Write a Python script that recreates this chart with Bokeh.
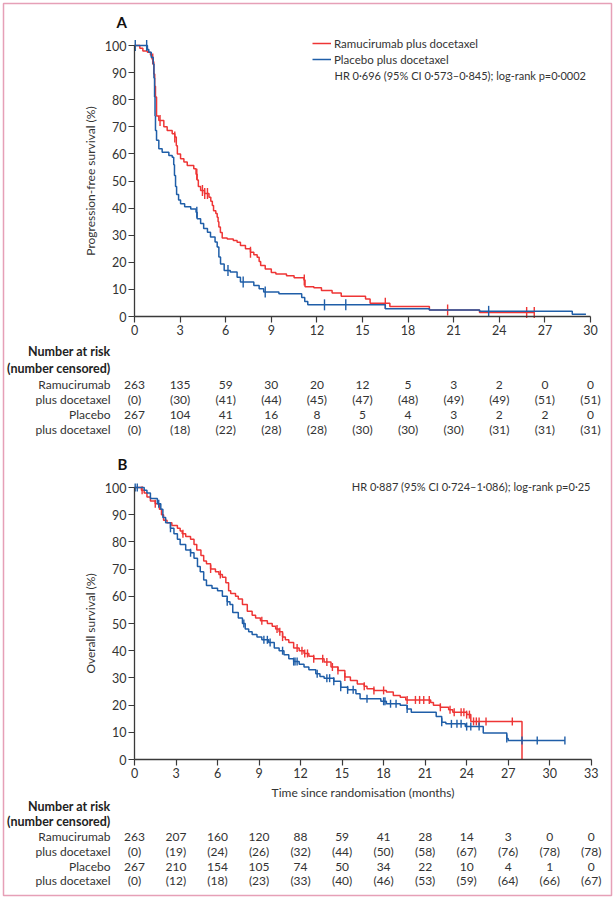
import numpy as np
from bokeh.plotting import figure
from bokeh.models import Range1d, LinearAxis, FixedTicker, Legend, LegendItem, Label
from bokeh.core.properties import value
from bokeh.embed import file_html
from bokeh.resources import INLINE

# ---------------- data ----------------
# Panel A: progression-free survival (time in months, survival %)
pfs_ram_t = [0, 0.35, 0.55, 0.85, 1.05, 1.15, 1.22, 1.27, 1.33, 1.38, 1.45, 1.6, 1.93, 2.15, 2.48,
             2.65, 2.75, 2.82, 3.03, 3.25, 3.47, 3.9, 4.05, 4.12, 4.2, 4.35, 4.6, 4.9, 5.02, 5.12,
             5.2, 5.35, 5.44, 5.5, 5.55, 5.65, 5.77, 6.1, 6.5, 6.75, 6.97, 7.3, 7.63, 7.85, 8.07,
             8.2, 8.3, 8.6, 9.0, 9.3, 10.0, 10.5, 11.15, 11.22, 11.8, 12.3, 13.0, 13.6, 15.2, 15.5,
             16.8, 19.4, 22.7, 26.3]
pfs_ram_s = [100, 99, 98, 97.5, 96.5, 95, 94, 89.5, 85, 81, 74, 72.3, 70, 68.6, 67.4,
             66.2, 63, 60, 58.2, 57, 55.7, 54.5, 52.5, 50.4, 48, 46.5, 45.4, 44, 42.5, 41,
             39, 38, 36.6, 35, 33, 31, 29, 28.6, 28, 27.4, 26.2, 25, 23.7, 22.8, 21.9,
             20.3, 18.8, 17.5, 16.2, 15.7, 15.0, 14.3, 13.5, 11, 10.6, 9.6, 8.7, 7.5, 6.5, 4.9,
             3.7, 2.4, 1.5, 1.5]
pfs_ram_cens = [1.2, 1.68, 2.65, 4.1, 4.47, 4.62, 4.8, 7.63, 11.17, 16.5, 20.6, 25.8, 26.3]

pfs_pla_t = [0, 0.85, 0.94, 1.1, 1.23, 1.28, 1.32, 1.35, 1.38, 1.45, 1.6, 1.82, 2.26, 2.48, 2.58,
             2.63, 2.7, 2.77, 2.9, 3.03, 3.3, 3.7, 4.05, 4.12, 4.35, 4.55, 4.8, 5.0, 5.3, 5.44,
             5.55, 5.66, 5.9, 6.3, 6.75, 6.97, 7.85, 8.2, 8.5, 9.5, 11.0, 11.2, 11.4, 16.5, 19.4,
             22.7, 28.8, 29.7]
pfs_pla_s = [100, 98.5, 97.5, 95.7, 93.2, 88, 81, 74, 68.6, 65, 61.9, 60.6, 59.4, 58.8, 56,
             52, 48, 45, 43, 41.6, 40.5, 39.7, 38.5, 36.1, 34.3, 32.5, 31.1, 29.3, 27.5, 25.6,
             22, 19.4, 17, 16.4, 14.5, 12.7, 11.4, 10.2, 9.0, 8.4, 7, 5.5, 4.3, 2.9, 2.4,
             1.9, 0.8, 0.8]
pfs_pla_cens = [0.05, 0.8, 4.1, 6.15, 7.15, 8.6, 12.5, 13.9, 23.3]

# Panel B: overall survival
os_ram_t = [0, 0.5, 0.7, 0.9, 1.15, 1.5, 1.8, 1.95, 2.1, 2.35, 2.7, 3.1, 3.3, 3.45, 3.7, 4.05,
            4.3, 4.5, 4.8, 5.0, 5.2, 5.5, 5.85, 6.1, 6.35, 6.6, 6.8, 6.95, 7.3, 7.5, 7.8, 8.15,
            8.5, 8.75, 9.1, 9.6, 9.95, 10.2, 10.45, 10.7, 10.9, 11.15, 11.5, 11.9, 12.25, 12.6,
            12.95, 13.7, 14.2, 14.7, 15.2, 15.6, 16.1, 16.6, 16.8, 17.3, 18.2, 18.7, 19.2, 19.6,
            21.4, 21.6, 22.1, 22.7, 23.0, 24.0, 24.3, 28.0]
os_ram_s = [100, 99, 98, 96.5, 95, 94, 92, 90, 88, 87, 86, 85, 84, 83, 82, 81,
            79, 77, 75, 73, 72, 70, 69, 68, 67, 65, 62, 61, 60, 59, 57, 54.5,
            53, 52, 51, 50, 49, 48, 47, 45, 44, 43, 41, 40, 39, 38,
            37, 35.8, 34, 32.7, 30.3, 29, 27.8, 26.9, 26, 25.4, 24.8, 23.5, 22.9, 21.9,
            21, 19.9, 19.2, 18.3, 17.4, 16.5, 14, 0]
os_ram_cens = [0.55, 1.5, 3.5, 5.5, 6.2, 9.2, 10.3, 10.5, 10.7, 11.75, 12.1, 12.3, 12.5, 12.95,
               13.6, 13.9, 14.3, 14.7, 15.2, 16.6, 17.3, 18.0, 19.7, 20.3, 20.6, 20.9, 21.3,
               22.1, 22.8, 23.1, 23.6, 23.8, 24.0, 24.2, 24.5, 24.7, 24.9, 25.4, 27.3]

os_pla_t = [0, 0.7, 0.9, 1.15, 1.65, 1.9, 2.05, 2.25, 2.6, 2.85, 3.1, 3.3, 3.7, 4.05, 4.3, 4.55,
            4.75, 5.0, 5.2, 5.6, 6.0, 6.35, 6.7, 6.9, 7.1, 7.5, 7.8, 8.0, 8.25, 8.5, 8.85, 9.2,
            9.7, 10.1, 10.45, 10.8, 11.15, 11.5, 11.9, 12.25, 12.6, 13.1, 13.4, 13.7, 14.4, 14.9,
            15.4, 16.0, 16.3, 17.8, 18.2, 19.2, 19.7, 20.0, 21.8, 22.2, 22.5, 23.9, 25.2, 26.9,
            27.0, 31.1]
os_pla_s = [100, 99, 98, 96, 94, 92, 89, 87, 85, 83, 81, 79, 77, 76, 74, 71,
            69, 66, 64, 63, 62, 60, 58, 57, 54, 52, 50, 48, 47, 46, 45, 44,
            43, 41, 40, 38.5, 37, 36, 35, 34, 33, 31.5, 30.5, 29.9, 28.8, 26.6,
            25.6, 24.2, 22.3, 21.4, 20.5, 19.9, 18.6, 17.4, 15.8, 13.7, 13.1, 12.1, 9.7, 7.7,
            7.0, 7.0]
os_pla_cens = [0.05, 0.2, 1.75, 2.6, 4.05, 6.7, 7.9, 9.35, 9.6, 9.8, 10.7, 11.5, 11.6, 11.75,
               13.2, 13.9, 14.1, 14.4, 14.9, 15.4, 15.8, 16.8, 18.0, 18.1, 18.5, 18.9, 19.7,
               22.2, 22.9, 23.3, 23.6, 24.0, 24.3, 24.9, 26.9, 28.0, 29.1, 31.1]

# Number at risk tables
pfs_months = [0, 3, 6, 9, 12, 15, 18, 21, 24, 27, 30]
pfs_ram_risk = [263, 135, 59, 30, 20, 12, 5, 3, 2, 0, 0]
pfs_ram_censored = [0, 30, 41, 44, 45, 47, 48, 49, 49, 51, 51]
pfs_pla_risk = [267, 104, 41, 16, 8, 5, 4, 3, 2, 2, 0]
pfs_pla_censored = [0, 18, 22, 28, 28, 30, 30, 30, 31, 31, 31]

os_months = [0, 3, 6, 9, 12, 15, 18, 21, 24, 27, 30, 33]
os_ram_risk = [263, 207, 160, 120, 88, 59, 41, 28, 14, 3, 0, 0]
os_ram_censored = [0, 19, 24, 26, 32, 44, 50, 58, 67, 76, 78, 78]
os_pla_risk = [267, 210, 154, 105, 74, 50, 34, 22, 10, 4, 1, 0]
os_pla_censored = [0, 12, 18, 23, 33, 40, 46, 53, 59, 64, 66, 67]

y_ticks = list(range(0, 101, 10))
row_labels = ["Number at risk", "(number censored)", "Ramucirumab", "plus docetaxel",
              "Placebo", "plus docetaxel"]

# ---------------- layout / style ----------------
W, H = 615, 900
FL, FR, FT, FB = 3, 611, 3, 895      # frame (= pink border) edges in page pixels
RED = "#EE3535"
BLUE = "#1F5EA8"
TXT = "#333333"
AXC = "#3a3a3a"
FONT = "Lato"


def x_range(x0_page, x1_page, vmax):
    s = (x1_page - x0_page) / vmax
    return Range1d(-(x0_page - FL) / s, vmax + (FR - x1_page) / s), s


def y_range(y0_page, y100_page):
    s = (y0_page - y100_page) / 100.0
    return Range1d(-(FB - y0_page) / s, 100 + (y100_page - FT) / s), s


xA, sxA = x_range(134, 590, 30)
yA, syA = y_range(316, 45)
xB, sxB = x_range(134, 590.7, 33)
yB, syB = y_range(759, 487)

p = figure(width=W, height=H, x_range=xA, y_range=yA,
           min_border_left=FL, min_border_right=W - FR,
           min_border_top=FT, min_border_bottom=H - FB,
           toolbar_location=None, output_backend="svg",
           x_axis_type=None, y_axis_type=None)
p.extra_x_ranges = {"xb": xB}
p.extra_y_ranges = {"yb": yB}
p.outline_line_color = "#E6A0B7"
p.outline_line_width = 1.5
p.background_fill_color = "white"
p.border_fill_color = "white"


def style_axis(ax):
    ax.axis_line_color = AXC
    ax.axis_line_width = 1.3
    ax.major_tick_line_color = AXC
    ax.major_tick_line_width = 1.2
    ax.major_tick_out = 6
    ax.major_tick_in = 0
    ax.minor_tick_line_color = None
    ax.major_label_text_font = FONT
    ax.major_label_text_font_size = "12.5px"
    ax.major_label_text_color = TXT
    ax.axis_label_text_font = FONT
    ax.axis_label_text_font_size = "12px"
    ax.axis_label_text_font_style = "normal"
    ax.axis_label_text_color = TXT


def add_axes(xr, yr, xmax, xticks, ylabel, xlabel=None):
    xa = LinearAxis(x_range_name=xr, y_range_name=yr, fixed_location=0, bounds=(0, xmax),
                    ticker=FixedTicker(ticks=xticks))
    style_axis(xa)
    xa.major_label_standoff = 2
    if xlabel:
        xa.axis_label = xlabel
        xa.axis_label_standoff = 4
    p.add_layout(xa, "below")
    ya = LinearAxis(x_range_name=xr, y_range_name=yr, fixed_location=0, bounds=(0, 100),
                    ticker=FixedTicker(ticks=y_ticks), axis_label=ylabel)
    style_axis(ya)
    ya.major_label_standoff = 2
    ya.axis_label_standoff = 4
    p.add_layout(ya, "left")


def surv_at(times, surv, t):
    idx = np.searchsorted(np.asarray(times), t, side="right") - 1
    return surv[max(idx, 0)]


def km(times, surv, cens, color, xr, yr, tick):
    r = p.step(times, surv, mode="after", line_color=color, line_width=1.5,
               x_range_name=xr, y_range_name=yr)
    cy = [surv_at(times, surv, t) for t in cens]
    p.scatter(cens, cy, marker="dash", angle=np.pi / 2, size=tick, line_color=color,
              line_width=1.4, x_range_name=xr, y_range_name=yr)
    return r


def risk_table(months, ram_r, ram_c, pla_r, pla_c, xr, yr, y0_page, sy, sx, rows_page):
    ys = [(y0_page - yy) / sy for yy in rows_page]
    label_x = (110 - 134) / sx
    p.text(x=[label_x] * 2, y=ys[:2], text=row_labels[:2], text_align="right",
           text_baseline="middle", text_font=value(FONT), text_font_size="12.5px",
           text_font_style="bold", text_color="#222222", x_range_name=xr, y_range_name=yr)
    p.text(x=[label_x] * 4, y=ys[2:], text=row_labels[2:], text_align="right",
           text_baseline="middle", text_font=value(FONT), text_font_size="12px",
           text_color=TXT, x_range_name=xr, y_range_name=yr)
    rows = [[str(v) for v in ram_r], ["(%d)" % v for v in ram_c],
            [str(v) for v in pla_r], ["(%d)" % v for v in pla_c]]
    for k, txt in enumerate(rows):
        p.text(x=months, y=[ys[2 + k]] * len(months), text=txt, text_align="center",
               text_baseline="middle", text_font=value(FONT), text_font_size="12px",
               text_color=TXT, x_range_name=xr, y_range_name=yr)


# ---------------- Panel A ----------------
add_axes("default", "default", 30, pfs_months, "Progression-free survival (%)")
rA1 = km(pfs_ram_t, pfs_ram_s, pfs_ram_cens, RED, "default", "default", 11)
rA2 = km(pfs_pla_t, pfs_pla_s, pfs_pla_cens, BLUE, "default", "default", 11)

legend = Legend(items=[LegendItem(label="Ramucirumab plus docetaxel", renderers=[rA1]),
                       LegendItem(label="Placebo plus docetaxel", renderers=[rA2])],
                location=(312 - FL, FB - 67), padding=0, margin=0, spacing=0,
                glyph_width=19, glyph_height=16, label_height=16, label_standoff=3,
                border_line_color=None, background_fill_alpha=0,
                label_text_font=FONT, label_text_font_size="11.5px", label_text_color=TXT)
p.add_layout(legend)

p.add_layout(Label(x=(334 - 134) / sxA, y=(316 - 75) / syA, text_baseline="middle",
                   text="HR 0·696 (95% CI 0·573–0·845); log-rank p=0·0002",
                   text_font=FONT, text_font_size="11px", text_color=TXT))
p.add_layout(Label(x=(116 - 134) / sxA, y=(316 - 21) / syA, text="A", text_baseline="middle",
                   text_font=FONT, text_font_size="15px", text_font_style="bold",
                   text_color="#111111"))

risk_table(pfs_months, pfs_ram_risk, pfs_ram_censored, pfs_pla_risk, pfs_pla_censored,
           "default", "default", 316, syA, sxA, [351, 368, 384, 399, 414, 429])

# ---------------- Panel B ----------------
add_axes("xb", "yb", 33, os_months, "Overall survival (%)",
         "Time since randomisation (months)")
km(os_ram_t, os_ram_s, os_ram_cens, RED, "xb", "yb", 8)
km(os_pla_t, os_pla_s, os_pla_cens, BLUE, "xb", "yb", 8)

p.add_layout(Label(x=(590 - 134) / sxB, y=(759 - 486) / syB, text_align="right",
                   text_baseline="middle",
                   text="HR 0·887 (95% CI 0·724–1·086); log-rank p=0·25",
                   text_font=FONT, text_font_size="11px", text_color=TXT,
                   x_range_name="xb", y_range_name="yb"))
p.add_layout(Label(x=(117 - 134) / sxB, y=(759 - 463) / syB, text="B", text_baseline="middle",
                   text_font=FONT, text_font_size="15px", text_font_style="bold",
                   text_color="#111111", x_range_name="xb", y_range_name="yb"))

risk_table(os_months, os_ram_risk, os_ram_censored, os_pla_risk, os_pla_censored,
           "xb", "yb", 759, syB, sxB, [806, 821, 836, 851, 866, 880])

open("out.html", "w").write(file_html(p, INLINE))
